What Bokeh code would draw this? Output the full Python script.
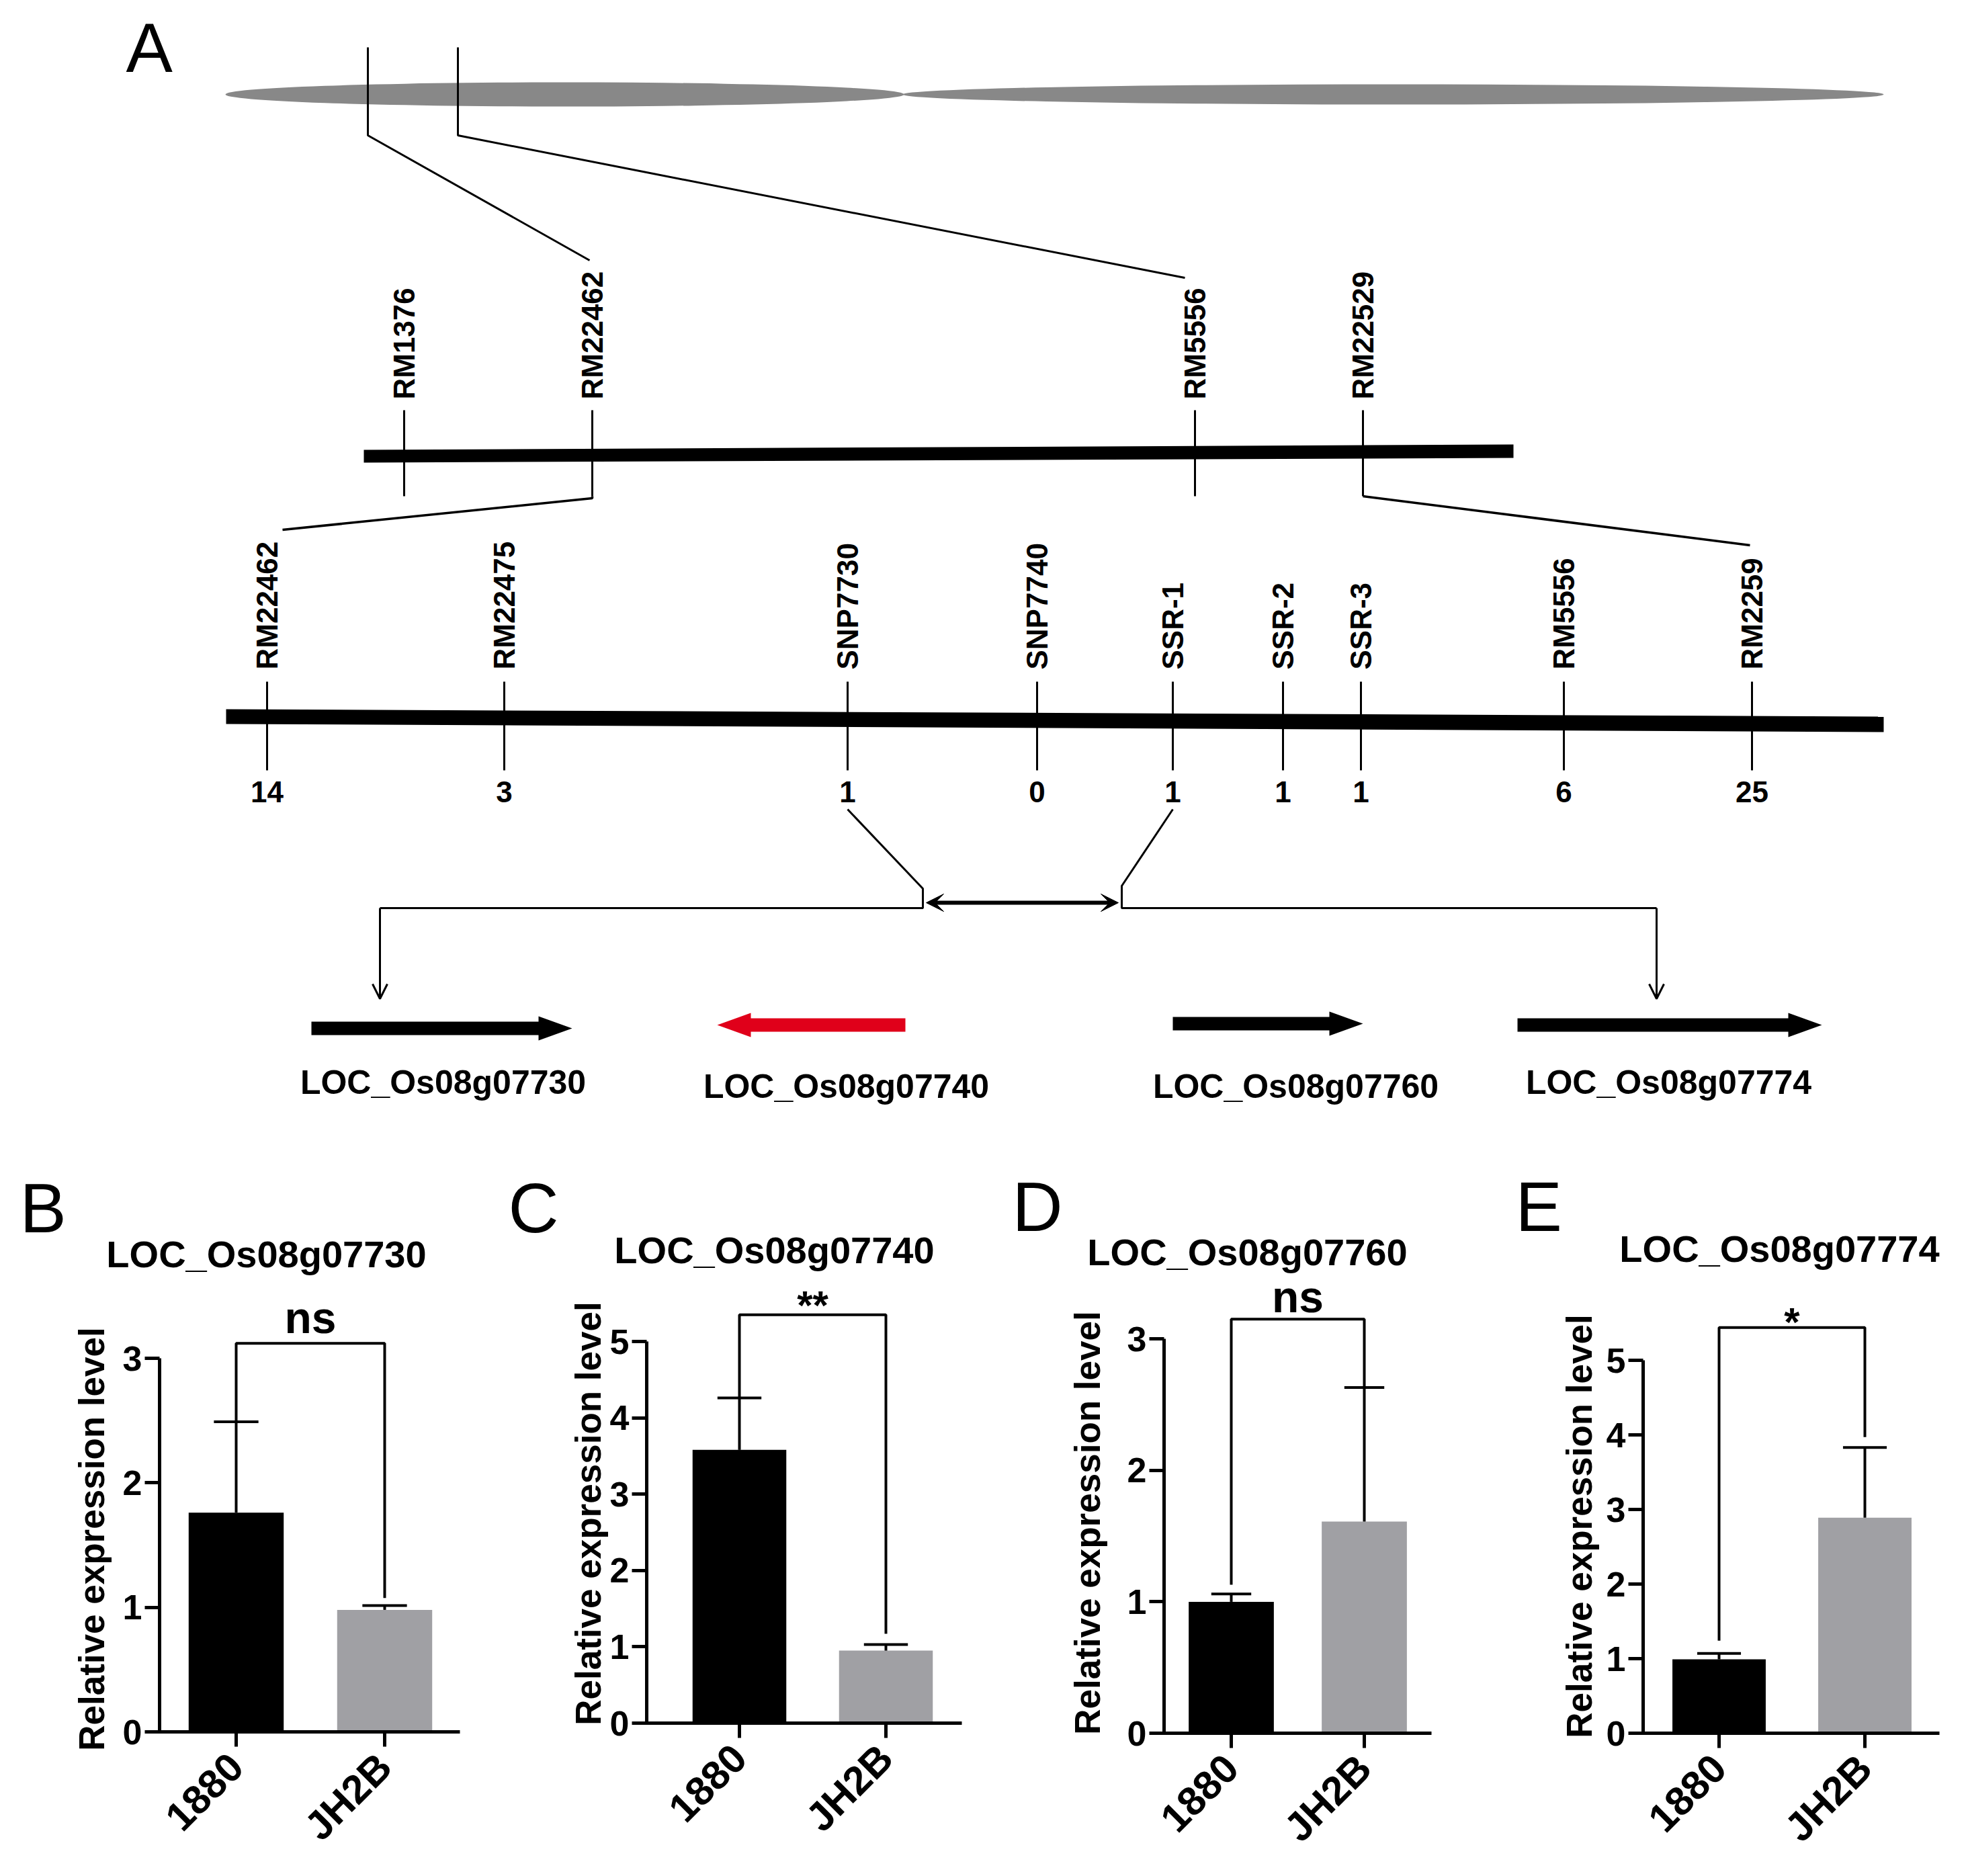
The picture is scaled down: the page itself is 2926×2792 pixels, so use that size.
import math
from bokeh.plotting import figure
from bokeh.models import Range1d, FixedTicker, Arrow, OpenHead, VeeHead
from bokeh.layouts import column, row
from bokeh.embed import file_html
from bokeh.resources import INLINE
from bokeh.core.properties import value

FONT = "Liberation Sans"

# ------------------------------------------------------------------ data
chrom_markers = ["RM1376", "RM22462", "RM5556", "RM22529"]
fine_markers = ["RM22462", "RM22475", "SNP7730", "SNP7740", "SSR-1",
                "SSR-2", "SSR-3", "RM5556", "RM2259"]
recombinants = [14, 3, 1, 0, 1, 1, 1, 6, 25]
genes = ["LOC_Os08g07730", "LOC_Os08g07740", "LOC_Os08g07760", "LOC_Os08g07774"]
gene_strand = [1, -1, 1, 1]
candidate_gene = "LOC_Os08g07740"

lines = ["1880", "JH2B"]
mean_07730 = [1.76, 0.98]
err_07730 = [0.73, 0.035]
mean_07740 = [3.58, 0.95]
err_07740 = [0.68, 0.08]
mean_07760 = [1.00, 1.61]
err_07760 = [0.06, 1.02]
mean_07774 = [0.99, 2.89]
err_07774 = [0.08, 0.94]
significance = ["ns", "**", "ns", "*"]
panel_letters = ["B", "C", "D", "E"]
y_label = "Relative expression level"

# ------------------------------------------------------------------ layout (page pixels)
chrom_marker_x = [601, 881, 1778, 2028]
fine_marker_x = [397, 750, 1261, 1543, 1745, 1909, 2025, 2327, 2607]
gene_start = [463, 1067, 1745, 2258]
gene_end = [851, 1347, 2028, 2711]
gene_y = [1530, 1525, 1523, 1525]
gene_label_x = [659, 1259, 1928, 2483]
gene_label_y = [1610, 1616, 1616, 1610]

PAGE_W = 2910
A_H = 1700

# ================================================================== panel A
pA = figure(width=PAGE_W, height=A_H, x_range=Range1d(0, PAGE_W), y_range=Range1d(A_H, 0),
            output_backend="svg", toolbar_location=None, min_border=0,
            x_axis_location=None, y_axis_location=None, title=None)
pA.grid.visible = False
pA.outline_line_color = None

pA.text(x=[187], y=[70], text=["A"], text_font=value(FONT), text_font_size="104px",
        text_align="left", text_baseline="middle", text_color="black")

# chromosome
pA.ellipse(x=[840, 2073], y=[140, 140], width=[1010, 1460], height=[36, 30],
           fill_color="#888888", line_color=None)

# zoom lines from chromosome
pA.multi_line(xs=[[547, 547, 877], [681, 681, 1763]], ys=[[70, 201, 387], [70, 201, 413]],
              line_color="black", line_width=3)

# middle bar
pA.patch(x=[541, 2252, 2252, 541], y=[669, 661, 681, 688], fill_color="black", line_color=None)
pA.segment(x0=chrom_marker_x, y0=[610] * 4, x1=chrom_marker_x, y1=[738] * 4,
           line_color="black", line_width=3)
pA.text(x=chrom_marker_x, y=[594] * 4, text=chrom_markers, angle=math.pi / 2,
        text_align="left", text_baseline="middle", text_font=value(FONT),
        text_font_size="44px", text_font_style="bold", text_color="black")
pA.multi_line(xs=[[881, 881, 420], [2028, 2028, 2604]], ys=[[738, 741, 788], [738, 738, 811]],
              line_color="black", line_width=3.5)

# lower bar
pA.patch(x=[336, 2803, 2803, 336], y=[1055, 1066, 1089, 1077], fill_color="black", line_color=None)
pA.segment(x0=fine_marker_x, y0=[1014] * 9, x1=fine_marker_x, y1=[1146] * 9,
           line_color="black", line_width=3)
pA.text(x=fine_marker_x, y=[996] * 9, text=fine_markers, angle=math.pi / 2,
        text_align="left", text_baseline="middle", text_font=value(FONT),
        text_font_size="44px", text_font_style="bold", text_color="black")
pA.text(x=fine_marker_x, y=[1178] * 9, text=[str(v) for v in recombinants],
        text_align="center", text_baseline="middle", text_font=value(FONT),
        text_font_size="44px", text_font_style="bold", text_color="black")

# interval lines
pA.multi_line(xs=[[1261, 1373, 1373, 565], [1745, 1669, 1669, 2465]],
              ys=[[1204, 1322, 1351, 1351], [1204, 1318, 1351, 1351]],
              line_color="black", line_width=3)
pA.add_layout(Arrow(x_start=1378, y_start=1343, x_end=1664, y_end=1343, line_width=6,
                    start=VeeHead(size=26, fill_color="black", line_color="black"),
                    end=VeeHead(size=26, fill_color="black", line_color="black")))
pA.add_layout(Arrow(x_start=565, y_start=1351, x_end=565, y_end=1486, line_width=3,
                    end=OpenHead(size=22, line_width=3)))
pA.add_layout(Arrow(x_start=2465, y_start=1351, x_end=2465, y_end=1486, line_width=3,
                    end=OpenHead(size=22, line_width=3)))

# gene arrows
xs, ys, cols = [], [], []
hs, hh, hl = 10, 18, 50
for g, s, e, st, yc in zip(genes, gene_start, gene_end, gene_strand, gene_y):
    if st > 0:
        b = e - hl
        xs.append([s, b, b, e, b, b, s])
    else:
        b = s + hl
        xs.append([e, b, b, s, b, b, e])
    ys.append([yc - hs, yc - hs, yc - hh, yc, yc + hh, yc + hs, yc + hs])
    cols.append("#e0001a" if g == candidate_gene else "black")
pA.patches(xs=xs, ys=ys, fill_color=cols, line_color=None)
pA.text(x=gene_label_x, y=gene_label_y, text=genes, text_align="center",
        text_baseline="middle", text_font=value(FONT), text_font_size="50px",
        text_font_style="bold", text_color="black")

# ================================================================== bar panels
panel_w = [737, 735, 720, 718]
panel_left = [0, 737, 1472, 2192]
PANEL_TOP = A_H
PANEL_H = 1076
axis_x_px = [237, 962, 1732, 2445]
xaxis_start_px = [227, 957, 1714, 2429]
axis_end_px = [684, 1431, 2130, 2886]
c1_px = [351, 1100, 1832, 2558]
c2_px = [572, 1318, 2030, 2775]
y0_px = [2577, 2564, 2579, 2579]
unit_y_px = [185.3, 113.6, 195.6, 111.0]
y_axis_max = [3, 5, 3, 5]
bracket_top = [3.12, 5.35, 3.15, 5.44]
leg_gap = [(0.0, 0.06), (0.0, 0.14), (0.07, 0.0), (0.17, 0.14)]
sig_gap_px = [38, 14, 33, 8]
letter_px = [(29, 1797), (756, 1797), (1506, 1795), (2255, 1795)]
title_px = [(396, 1866), (1152, 1860), (1856, 1863), (2648, 1858)]
ylabel_px = [(136, 2290), (875, 2252), (1618, 2266), (2350, 2271)]

means = [mean_07730, mean_07740, mean_07760, mean_07774]
errs = [err_07730, err_07740, err_07760, err_07774]

bar_figs = []
for i in range(4):
    W = panel_w[i]
    ux = c2_px[i] - c1_px[i]
    uy = unit_y_px[i]

    def xd(px, i=i, ux=ux):
        return 1 + (px - c1_px[i]) / ux

    def yd(py, i=i, uy=uy):
        return (y0_px[i] - py) / uy

    pl = panel_left[i]
    p = figure(width=W, height=PANEL_H,
               x_range=Range1d(xd(pl), xd(pl + W)),
               y_range=Range1d(yd(PANEL_TOP + PANEL_H), yd(PANEL_TOP)),
               output_backend="svg", toolbar_location=None, title=None, min_border=0)
    p.grid.visible = False
    p.outline_line_color = None

    xc = [1, 2]
    m = means[i]
    e = errs[i]
    p.vbar(x=xc, top=m, width=0.64, fill_color=["black", "#a0a0a4"], line_color=None)
    up = [a + b for a, b in zip(m, e)]
    p.segment(x0=xc, y0=m, x1=xc, y1=up, line_color="black", line_width=4)
    p.segment(x0=[x - 0.15 for x in xc], y0=up, x1=[x + 0.15 for x in xc], y1=up,
              line_color="black", line_width=4)

    top = bracket_top[i]
    p.line(x=[1, 1, 2, 2], y=[up[0] + leg_gap[i][0], top, top, up[1] + leg_gap[i][1]],
           line_color="black", line_width=4)
    p.text(x=[1.5], y=[top + sig_gap_px[i] / uy], text=[significance[i]],
           text_align="center", text_baseline="middle", text_font=value(FONT),
           text_font_size="66px" if significance[i] == "ns" else "60px",
           text_font_style="bold", text_color="black")

    # axes (library axes, pinned at the data origin)
    p.xaxis.fixed_location = 0
    p.yaxis.fixed_location = xd(axis_x_px[i])
    p.xaxis.bounds = (xd(xaxis_start_px[i]), xd(axis_end_px[i]))
    p.yaxis.bounds = (0, y_axis_max[i])
    p.xaxis.ticker = FixedTicker(ticks=[1, 2])
    p.xaxis.major_label_overrides = {1: lines[0], 2: lines[1]}
    p.xaxis.major_label_orientation = math.pi / 4
    p.yaxis.ticker = FixedTicker(ticks=list(range(0, y_axis_max[i] + 1)))
    for ax in (p.xaxis, p.yaxis):
        ax.axis_line_width = 5
        ax.axis_line_color = "black"
        ax.major_tick_line_width = 5
        ax.major_tick_line_color = "black"
        ax.major_tick_in = 0
        ax.major_tick_out = 22
        ax.minor_tick_line_color = None
        ax.major_label_text_font = FONT
        ax.major_label_text_font_style = "bold"
        ax.major_label_text_color = "black"
    p.yaxis.major_label_standoff = 4
    p.xaxis.major_label_standoff = 20
    p.xaxis.major_label_text_font_size = "60px"
    p.yaxis.major_label_text_font_size = "52px"

    lx, ly = ylabel_px[i]
    p.text(x=[xd(lx)], y=[yd(ly)], text=[y_label], angle=math.pi / 2,
           text_align="center", text_baseline="middle", text_font=value(FONT),
           text_font_size="53px", text_font_style="bold", text_color="black")
    lx, ly = letter_px[i]
    p.text(x=[xd(lx)], y=[yd(ly)], text=[panel_letters[i]], text_font=value(FONT),
           text_font_size="104px", text_align="left", text_baseline="middle",
           text_color="black")
    tx, ty = title_px[i]
    p.text(x=[xd(tx)], y=[yd(ty)], text=[genes[i]], text_font=value(FONT),
           text_font_size="56px", text_font_style="bold", text_align="center",
           text_baseline="middle", text_color="black")
    bar_figs.append(p)

layout = column(pA, row(*bar_figs))
open("out.html", "w").write(file_html(layout, INLINE))
